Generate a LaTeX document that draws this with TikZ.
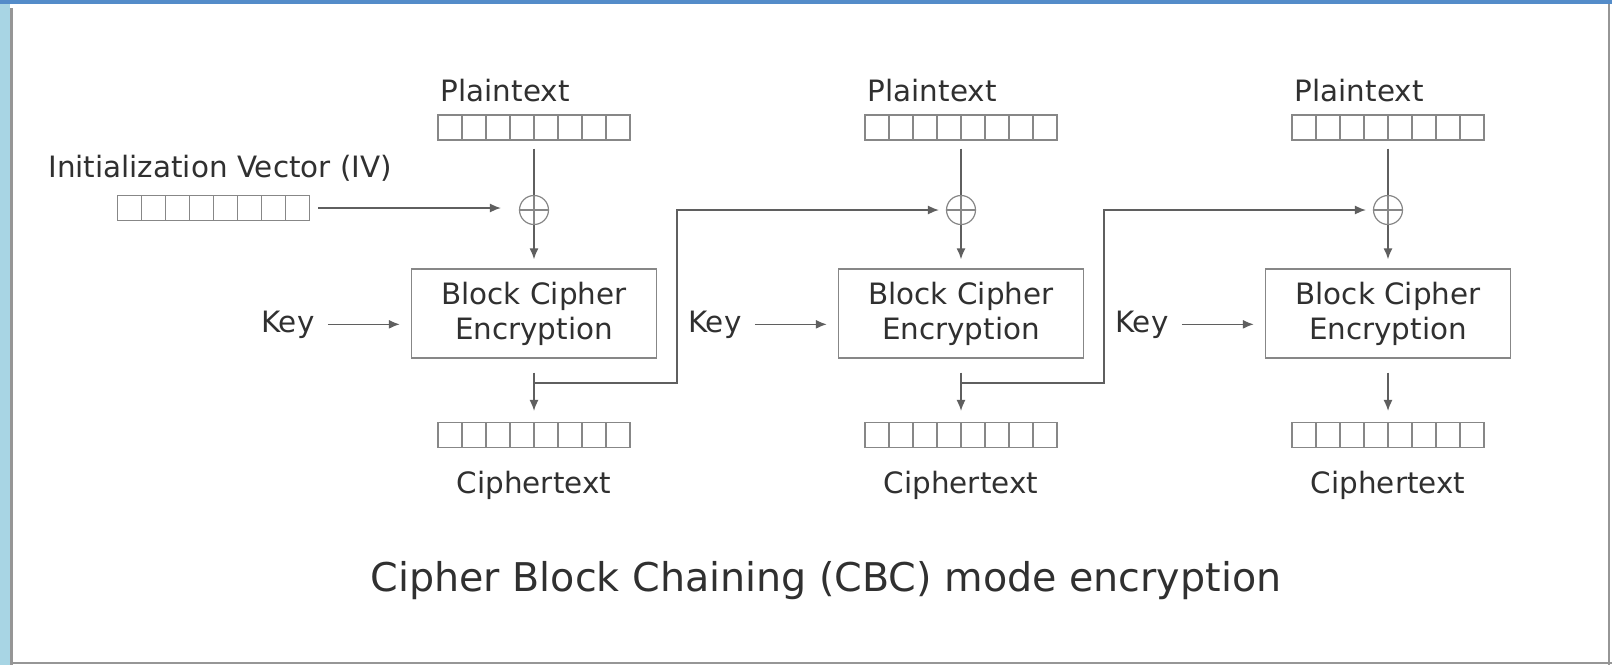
\documentclass[tikz,border=0pt]{standalone}
\usepackage{fontspec}
\setmainfont{DejaVu Sans}
\usetikzlibrary{arrows.meta,positioning}

\definecolor{inkgray}{RGB}{48,48,48}
\definecolor{linegray}{RGB}{95,95,95}
\definecolor{boxgray}{RGB}{135,135,135}
\definecolor{stripblue}{RGB}{168,213,228}
\definecolor{topblue}{RGB}{84,140,201}
\definecolor{framegray}{RGB}{150,150,150}

\tikzset{
  txt/.style={inner sep=0pt, text=inkgray, font=\fontsize{14.7}{17.5}\selectfont},
  blockbar/.style={draw=boxgray, line width=0.6pt, minimum width=96pt, minimum height=12.5pt, inner sep=0pt,
    path picture={\foreach \i in {1,...,7}
      \draw[boxgray, line width=0.6pt] ([xshift=\i*12pt]path picture bounding box.south west) -- ([xshift=\i*12pt]path picture bounding box.north west);}},
  xorop/.style={circle, draw=boxgray, line width=0.6pt, minimum size=14.5pt, inner sep=0pt,
    path picture={\draw[boxgray, line width=0.6pt] (path picture bounding box.north) -- (path picture bounding box.south)
      (path picture bounding box.west) -- (path picture bounding box.east);}},
  cipherbox/.style={draw=boxgray, line width=0.7pt, minimum width=122.5pt, minimum height=44.5pt,
    align=center, text=inkgray, font=\fontsize{14.7}{17.5}\selectfont},
  conn/.style={draw=linegray, line width=0.7pt},
  flow/.style={conn, -{Latex[length=5.5pt,width=4.5pt]}}
}

\begin{document}
\begin{tikzpicture}[x=0.5pt, y=-0.5pt, node distance=213.5pt]
    % frame
    \useasboundingbox (0,0) rectangle (1612,665);
    \fill[white] (0,0) rectangle (1612,665);
    \fill[stripblue] (0,0) rectangle (10,665);
    \fill[topblue] (0,0) rectangle (1612,4);
    \draw[framegray, line width=1.2pt] (11.5,8) -- (11.5,665);
    \draw[framegray, line width=1pt] (11.5,662.5) -- (1612,662.5);
    \draw[framegray, line width=1pt] (1609,4) -- (1609,665);
    % place nodes
    \node[blockbar] (pbar1) at (534,127.5) {};
    \node[xorop] (xor1) at (534,210) {};
    \node[cipherbox] (enc1) at (534,313.5) {Block Cipher\\Encryption};
    \node[blockbar] (cbar1) at (534,435) {};
    \coordinate (turn1) at (677,383);
    \node[blockbar] (pbar2) [right of = pbar1] {};
    \node[xorop] (xor2) [right of = xor1] {};
    \node[cipherbox] (enc2) [right of = enc1] {Block Cipher\\Encryption};
    \node[blockbar] (cbar2) [right of = cbar1] {};
    \coordinate [right of = turn1] (turn2);
    \node[blockbar] (pbar3) [right of = pbar2] {};
    \node[xorop] (xor3) [right of = xor2] {};
    \node[cipherbox] (enc3) [right of = enc2] {Block Cipher\\Encryption};
    \node[blockbar] (cbar3) [right of = cbar2] {};
    \node[txt, anchor=base west] (pt1) at ([xshift=1.5pt, yshift=6.5pt]pbar1.north west) {Plaintext};
    \node[txt, anchor=base west] (pt2) at ([xshift=1.5pt, yshift=6.5pt]pbar2.north west) {Plaintext};
    \node[txt, anchor=base west] (pt3) at ([xshift=1.5pt, yshift=6.5pt]pbar3.north west) {Plaintext};
    \node[txt, anchor=base] (ct1) at ([yshift=-22.5pt]cbar1.south) {Ciphertext};
    \node[txt, anchor=base] (ct2) at ([yshift=-22.5pt]cbar2.south) {Ciphertext};
    \node[txt, anchor=base] (ct3) at ([yshift=-22.5pt]cbar3.south) {Ciphertext};
    \node[txt, anchor=base east] (key1) at ([xshift=-48pt, yshift=-9.25pt]enc1.west) {Key};
    \node[txt, anchor=base east] (key2) at ([xshift=-48pt, yshift=-9.25pt]enc2.west) {Key};
    \node[txt, anchor=base east] (key3) at ([xshift=-48pt, yshift=-9.25pt]enc3.west) {Key};
    \node[txt, anchor=base west] (ivtxt) at (48,177) {Initialization Vector (IV)};
    \node[blockbar] (ivbar) at (213.5,208) {};
    \node[txt, anchor=base, font=\fontsize{19.8}{24}\selectfont] (title) at (826,591) {Cipher Block Chaining (CBC) mode encryption};
    % draw edges
    \foreach \c in {1,2,3} {
      \draw[conn, shorten <=4pt] (pbar\c) -- (xor\c);
      \draw[flow, shorten >=4.5pt] (xor\c) -- (enc\c);
      \draw[flow, shorten <=7pt, shorten >=5.5pt] (enc\c) -- (cbar\c);
      \draw[flow, shorten <=6.5pt, shorten >=5.5pt] (key\c) -- (enc\c.west |- key\c);
    }
    \draw[flow, shorten <=4pt, shorten >=9pt] (ivbar) -- (xor1.west |- ivbar);
    \draw[flow, shorten >=3.5pt] (enc1.south |- turn1) -- (turn1) |- (xor2.west);
    \draw[flow, shorten >=3.5pt] (enc2.south |- turn2) -- (turn2) |- (xor3.west);
\end{tikzpicture}
\end{document}
